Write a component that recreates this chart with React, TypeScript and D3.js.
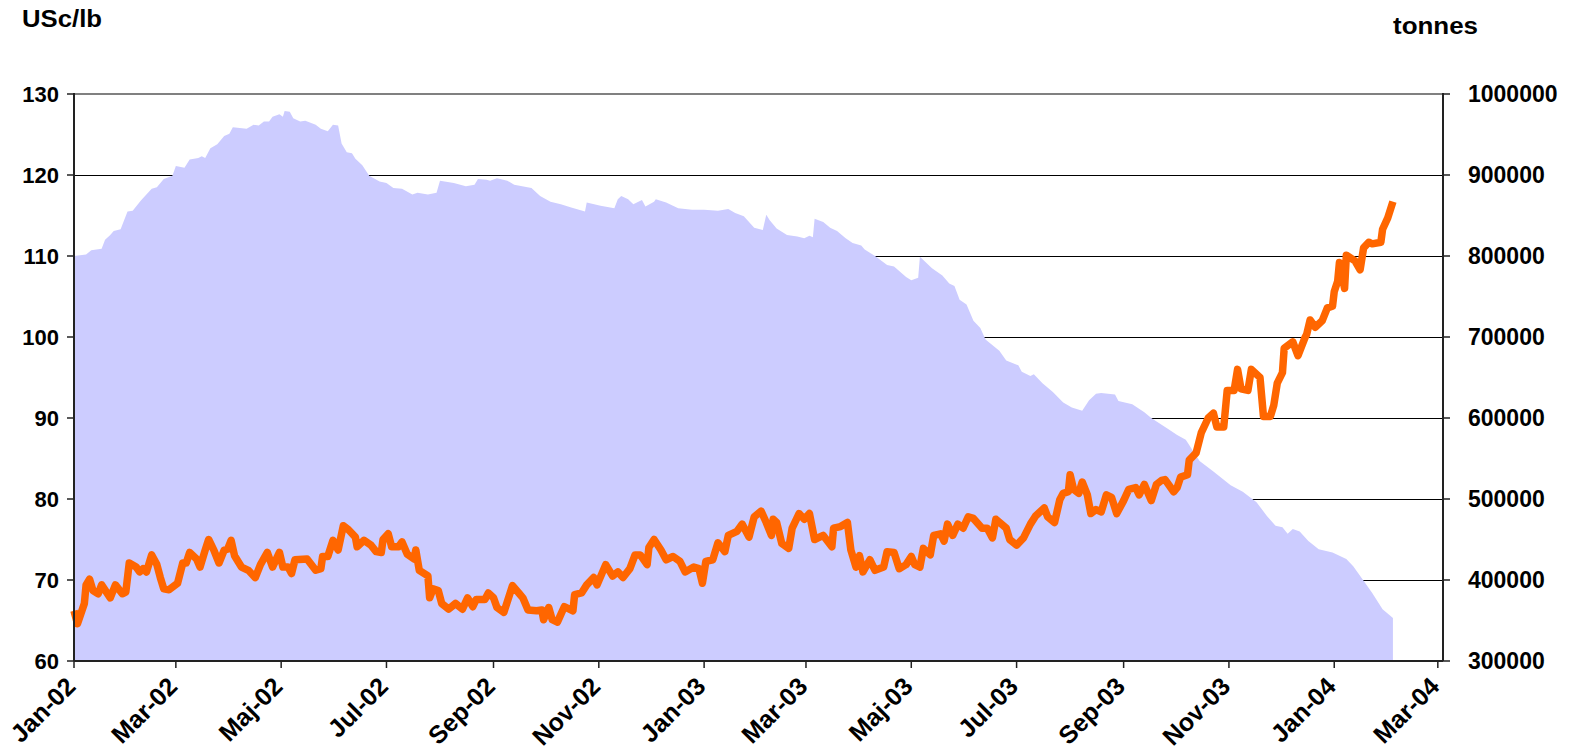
import React, { useRef, useEffect } from 'react';
import * as d3 from 'd3';

// LME copper stocks (tonnes, right axis)
const stockDates = [
  '2002-01-01', '2002-01-08', '2002-01-11', '2002-01-17', '2002-01-19', '2002-01-22', '2002-01-24', '2002-01-28',
  '2002-02-01', '2002-02-04', '2002-02-09', '2002-02-15', '2002-02-18', '2002-02-22', '2002-02-27',
  '2002-03-01', '2002-03-06', '2002-03-09', '2002-03-14', '2002-03-16', '2002-03-18', '2002-03-21', '2002-03-25', '2002-03-29',
  '2002-04-01', '2002-04-03', '2002-04-11', '2002-04-15', '2002-04-18', '2002-04-21', '2002-04-24', '2002-04-26', '2002-04-30',
  '2002-05-02', '2002-05-03', '2002-05-06', '2002-05-08', '2002-05-12', '2002-05-15', '2002-05-21', '2002-05-24', '2002-05-28', '2002-05-31',
  '2002-06-03', '2002-06-05', '2002-06-08', '2002-06-11', '2002-06-13', '2002-06-17', '2002-06-21', '2002-06-27',
  '2002-07-01', '2002-07-05', '2002-07-10', '2002-07-16', '2002-07-19', '2002-07-25', '2002-07-30',
  '2002-08-01', '2002-08-09', '2002-08-16', '2002-08-21', '2002-08-23', '2002-08-28', '2002-08-30',
  '2002-09-03', '2002-09-09', '2002-09-13', '2002-09-23', '2002-09-28',
  '2002-10-04', '2002-10-10', '2002-10-16', '2002-10-24', '2002-10-25',
  '2002-11-02', '2002-11-10', '2002-11-12', '2002-11-14', '2002-11-18', '2002-11-21', '2002-11-26', '2002-11-28',
  '2002-12-03', '2002-12-04', '2002-12-10', '2002-12-17', '2002-12-25',
  '2003-01-01', '2003-01-09', '2003-01-15', '2003-01-19', '2003-01-24', '2003-01-30',
  '2003-02-04', '2003-02-06', '2003-02-08', '2003-02-12', '2003-02-18', '2003-02-24', '2003-02-28',
  '2003-03-03', '2003-03-05', '2003-03-06', '2003-03-11', '2003-03-15', '2003-03-19', '2003-03-24', '2003-03-28',
  '2003-04-02', '2003-04-04', '2003-04-10', '2003-04-17', '2003-04-21', '2003-04-28',
  '2003-05-01', '2003-05-05', '2003-05-06', '2003-05-13', '2003-05-19', '2003-05-23', '2003-05-26', '2003-05-29',
  '2003-06-02', '2003-06-06', '2003-06-10', '2003-06-13', '2003-06-21', '2003-06-25',
  '2003-07-02', '2003-07-04', '2003-07-09', '2003-07-11', '2003-07-16', '2003-07-22', '2003-07-28',
  '2003-08-02', '2003-08-08', '2003-08-12', '2003-08-16', '2003-08-19', '2003-08-27', '2003-08-29',
  '2003-09-06', '2003-09-13', '2003-09-17', '2003-09-27',
  '2003-10-02', '2003-10-07', '2003-10-15', '2003-10-23',
  '2003-11-02', '2003-11-09', '2003-11-17', '2003-11-23', '2003-11-28',
  '2003-12-02', '2003-12-05', '2003-12-08', '2003-12-12', '2003-12-17', '2003-12-23', '2003-12-31',
  '2004-01-08', '2004-01-12', '2004-01-18', '2004-01-23', '2004-01-29', '2004-02-04',
];
const stockTonnes = [
  800000, 802000, 807000, 809000, 820000, 826000, 831000, 833000,
  855000, 856000, 869000, 883000, 885000, 895000, 899000,
  911000, 909000, 919000, 921000, 923000, 921000, 933000, 938000, 948000,
  951000, 959000, 957000, 962000, 961000, 966000, 966000, 972000, 975000,
  972000, 979000, 978000, 970000, 966000, 967000, 962000, 957000, 954000, 962000,
  961000, 939000, 928000, 927000, 920000, 912000, 899000, 892000,
  890000, 884000, 883000, 876000, 878000, 876000, 878000,
  893000, 890000, 886000, 888000, 895000, 894000, 893000,
  896000, 893000, 888000, 884000, 874000,
  867000, 864000, 860000, 855000, 866000,
  862000, 859000, 870000, 874000, 870000, 864000, 869000, 861000,
  867000, 870000, 866000, 859000, 857000,
  857000, 856000, 858000, 853000, 849000, 835000,
  832000, 851000, 844000, 834000, 826000, 824000, 822000,
  825000, 823000, 846000, 842000, 835000, 831000, 822000, 816000,
  813000, 808000, 800000, 789000, 787000, 774000,
  770000, 773000, 799000, 785000, 776000, 766000, 763000, 746000,
  740000, 720000, 711000, 697000, 683000, 671000,
  665000, 657000, 652000, 654000, 643000, 632000, 619000,
  613000, 609000, 622000, 630000, 631000, 629000, 621000,
  617000, 607000, 600000, 586000,
  579000, 573000, 547000, 534000,
  517000, 509000, 496000, 479000, 467000,
  465000, 457000, 463000, 460000, 448000, 438000, 434000,
  426000, 417000, 399000, 384000, 364000, 353000,
];

// LME copper cash price (USc/lb, left axis)
const priceDates = [
  '2002-01-01', '2002-01-03', '2002-01-07', '2002-01-08', '2002-01-10', '2002-01-12', '2002-01-15', '2002-01-17',
  '2002-01-22', '2002-01-25', '2002-01-29', '2002-01-31',
  '2002-02-02', '2002-02-06', '2002-02-08', '2002-02-10', '2002-02-12', '2002-02-15', '2002-02-18', '2002-02-20',
  '2002-02-22', '2002-02-25',
  '2002-03-02', '2002-03-05', '2002-03-07', '2002-03-09', '2002-03-13', '2002-03-15', '2002-03-18', '2002-03-20',
  '2002-03-23', '2002-03-26', '2002-03-29', '2002-03-31',
  '2002-04-02', '2002-04-04', '2002-04-08', '2002-04-12', '2002-04-16', '2002-04-19', '2002-04-23', '2002-04-26', '2002-04-30',
  '2002-05-02', '2002-05-05', '2002-05-07', '2002-05-09', '2002-05-16', '2002-05-21', '2002-05-24', '2002-05-25',
  '2002-05-28', '2002-05-31',
  '2002-06-03', '2002-06-06', '2002-06-09', '2002-06-13', '2002-06-14', '2002-06-18', '2002-06-22', '2002-06-25',
  '2002-06-28', '2002-06-29',
  '2002-07-02', '2002-07-04', '2002-07-08', '2002-07-10', '2002-07-13', '2002-07-17', '2002-07-18', '2002-07-20',
  '2002-07-25', '2002-07-26', '2002-07-28', '2002-07-31',
  '2002-08-02', '2002-08-06', '2002-08-10', '2002-08-14', '2002-08-17', '2002-08-20', '2002-08-22', '2002-08-27', '2002-08-29',
  '2002-09-01', '2002-09-03', '2002-09-07', '2002-09-12', '2002-09-16', '2002-09-18', '2002-09-21', '2002-09-26',
  '2002-09-29', '2002-09-30',
  '2002-10-03', '2002-10-05', '2002-10-08', '2002-10-12', '2002-10-17', '2002-10-18', '2002-10-22', '2002-10-25',
  '2002-10-29', '2002-10-31',
  '2002-11-05', '2002-11-09', '2002-11-12', '2002-11-15', '2002-11-19', '2002-11-22', '2002-11-25', '2002-11-29', '2002-11-30',
  '2002-12-03', '2002-12-07', '2002-12-10', '2002-12-14', '2002-12-18', '2002-12-21', '2002-12-26', '2002-12-29', '2002-12-31',
  '2003-01-02', '2003-01-06', '2003-01-09', '2003-01-13', '2003-01-15', '2003-01-20', '2003-01-23', '2003-01-27', '2003-01-30',
  '2003-02-03', '2003-02-06', '2003-02-09', '2003-02-10', '2003-02-12', '2003-02-15', '2003-02-19', '2003-02-21',
  '2003-02-25', '2003-02-28',
  '2003-03-03', '2003-03-06', '2003-03-11', '2003-03-16', '2003-03-17', '2003-03-21', '2003-03-25', '2003-03-27', '2003-03-30',
  '2003-04-01', '2003-04-03', '2003-04-07', '2003-04-10', '2003-04-15', '2003-04-17', '2003-04-21', '2003-04-24', '2003-04-28',
  '2003-05-01', '2003-05-03', '2003-05-06', '2003-05-08', '2003-05-12', '2003-05-14', '2003-05-18', '2003-05-20',
  '2003-05-22', '2003-05-25', '2003-05-28', '2003-05-31',
  '2003-06-03', '2003-06-06', '2003-06-11', '2003-06-14', '2003-06-17', '2003-06-19', '2003-06-25', '2003-06-27',
  '2003-07-01', '2003-07-05', '2003-07-09', '2003-07-12', '2003-07-17', '2003-07-19', '2003-07-23', '2003-07-26',
  '2003-07-28', '2003-07-31',
  '2003-08-01', '2003-08-03', '2003-08-06', '2003-08-08', '2003-08-11', '2003-08-13', '2003-08-16', '2003-08-19',
  '2003-08-22', '2003-08-25', '2003-08-28',
  '2003-09-01', '2003-09-04', '2003-09-08', '2003-09-10', '2003-09-13', '2003-09-17', '2003-09-20', '2003-09-23',
  '2003-09-25', '2003-09-30',
  '2003-10-02', '2003-10-04', '2003-10-08', '2003-10-09', '2003-10-13', '2003-10-16', '2003-10-20', '2003-10-23',
  '2003-10-25', '2003-10-29', '2003-10-31',
  '2003-11-04', '2003-11-06', '2003-11-08', '2003-11-12', '2003-11-14', '2003-11-19', '2003-11-21', '2003-11-25',
  '2003-11-27', '2003-11-29',
  '2003-12-02', '2003-12-03', '2003-12-08', '2003-12-11', '2003-12-15', '2003-12-16', '2003-12-18', '2003-12-21',
  '2003-12-25', '2003-12-28', '2003-12-31',
  '2004-01-01', '2004-01-03', '2004-01-04', '2004-01-07', '2004-01-08', '2004-01-13', '2004-01-16', '2004-01-18',
  '2004-01-21', '2004-01-23', '2004-01-28', '2004-01-29', '2004-02-01', '2004-02-04',
];
const priceUsc = [
  66.2, 64.6, 67.1, 69.4, 70.1, 68.7, 68.3, 69.4,
  67.8, 69.4, 68.3, 68.5,
  72.1, 71.6, 71.0, 71.4, 71.0, 73.1, 71.9, 70.3,
  68.9, 68.8,
  69.6, 72.1, 72.1, 73.4, 72.6, 71.6, 73.7, 75.0,
  73.7, 72.1, 73.7, 73.8,
  74.9, 73.0, 71.6, 71.2, 70.3, 71.9, 73.4, 71.6, 73.4,
  71.6, 71.6, 70.8, 72.5, 72.6, 71.2, 71.4, 72.9,
  72.9, 74.9,
  73.7, 76.7, 76.2, 75.3, 74.1, 74.9, 74.3, 73.5,
  73.4, 75.0,
  75.7, 74.1, 74.1, 74.7, 73.2, 72.6, 73.7, 71.2,
  70.5, 67.8, 68.9, 68.7,
  67.1, 66.4, 67.1, 66.4, 67.8, 66.7, 67.6, 67.6, 68.4,
  67.8, 66.6, 66.0, 69.3, 68.3, 67.8, 66.3, 66.2,
  66.3, 65.1,
  66.6, 65.1, 64.8, 66.7, 66.2, 68.2, 68.4, 69.4,
  70.3, 69.4,
  71.9, 70.5, 71.0, 70.3, 71.4, 73.1, 73.1, 71.9, 74.0,
  75.0, 73.7, 72.5, 72.9, 72.3, 71.0, 71.6, 71.4, 69.6,
  72.3, 72.5, 74.6, 73.5, 75.5, 76.0, 76.9, 75.3, 77.8,
  78.5, 77.1, 75.5, 77.5, 77.1, 74.5, 73.9, 76.4,
  78.2, 77.5,
  78.2, 75.0, 75.5, 74.1, 76.4, 76.6, 77.1, 73.7, 71.6,
  73.0, 71.0, 72.5, 71.2, 71.6, 73.5, 73.4, 71.4, 71.9,
  72.9, 71.9, 71.6, 73.9, 73.1, 75.5, 75.7, 74.8,
  76.9, 75.5, 76.9, 76.4,
  77.8, 77.6, 76.4, 76.4, 75.2, 77.5, 76.4, 75.0,
  74.3, 75.2, 76.9, 77.9, 78.9, 77.8, 77.1, 79.9,
  80.7, 80.9,
  83.0, 81.2, 80.7, 82.1, 80.5, 78.2, 78.7, 78.4,
  80.5, 80.2, 78.2,
  79.8, 81.2, 81.4, 80.5, 81.8, 79.8, 81.8, 82.3,
  82.4, 80.9,
  81.4, 82.7, 83.0, 84.8, 85.7, 88.2, 90.0, 90.6,
  88.9, 88.9, 93.4,
  93.4, 96.0, 93.6, 93.4, 96.0, 95.0, 90.2, 90.2,
  91.6, 94.3,
  95.6, 98.6, 99.4, 97.7, 99.9, 100.3, 102.1, 101.2,
  102.0, 103.6, 103.8,
  105.6, 106.9, 109.2, 106.0, 110.1, 109.4, 108.3, 111.0,
  111.7, 111.5, 111.7, 113.3, 114.7, 116.7,
];

const leftTicks = [60, 70, 80, 90, 100, 110, 120, 130];
const rightTicks = [300000, 400000, 500000, 600000, 700000, 800000, 900000, 1000000];
const xTickDates = [
  '2002-01-01', '2002-03-01', '2002-05-01', '2002-07-01', '2002-09-01', '2002-11-01', '2003-01-01',
  '2003-03-01', '2003-05-01', '2003-07-01', '2003-09-01', '2003-11-01', '2004-01-01', '2004-03-01',
];
const xTickLabels = [
  'Jan-02', 'Mar-02', 'Maj-02', 'Jul-02', 'Sep-02', 'Nov-02', 'Jan-03',
  'Mar-03', 'Maj-03', 'Jul-03', 'Sep-03', 'Nov-03', 'Jan-04', 'Mar-04',
];

const parse = d3.utcParse('%Y-%m-%d');
const FONT = '"Liberation Sans", Arial, sans-serif';

const CopperChart = () => {
  const svgRef = useRef(null);

  useEffect(() => {
    const width = 1577;
    const height = 753;
    const left = 74;
    const right = 1443;
    const top = 94;
    const bottom = 661;

    const svg = d3.select(svgRef.current).attr('width', width).attr('height', height);
    svg.selectAll('*').remove();

    const x = d3
      .scaleUtc()
      .domain([parse('2002-01-01'), parse('2004-03-04')])
      .range([left, right]);
    const yLeft = d3.scaleLinear().domain([60, 130]).range([bottom, top]);
    const yRight = d3.scaleLinear().domain([300000, 1000000]).range([bottom, top]);

    const stocks = stockDates.map((d, i) => ({ date: parse(d), value: stockTonnes[i] }));
    const prices = priceDates.map((d, i) => ({ date: parse(d), value: priceUsc[i] }));

    // gridlines behind the area
    svg
      .append('g')
      .selectAll('line')
      .data(leftTicks.filter((t) => t > 60 && t < 130))
      .enter()
      .append('line')
      .attr('x1', left)
      .attr('x2', right)
      .attr('y1', (d) => Math.round(yLeft(d)) + 0.5)
      .attr('y2', (d) => Math.round(yLeft(d)) + 0.5)
      .attr('stroke', '#000')
      .attr('stroke-width', 1);

    // stocks area
    const area = d3
      .area()
      .x((d) => x(d.date))
      .y0(yRight(300000))
      .y1((d) => yRight(d.value));
    svg.append('path').datum(stocks).attr('d', area).attr('fill', '#CCCCFF');

    // top border
    svg
      .append('line')
      .attr('x1', left)
      .attr('x2', right)
      .attr('y1', top)
      .attr('y2', top)
      .attr('stroke', '#808080')
      .attr('stroke-width', 2);

    // price line
    const line = d3
      .line()
      .x((d) => x(d.date))
      .y((d) => yLeft(d.value));
    svg
      .append('path')
      .datum(prices)
      .attr('d', line)
      .attr('fill', 'none')
      .attr('stroke', '#FF6600')
      .attr('stroke-width', 7.5)
      .attr('stroke-linejoin', 'round');

    const axisColor = '#222';

    // left axis
    svg.append('line').attr('x1', left).attr('x2', left).attr('y1', top - 1).attr('y2', bottom)
      .attr('stroke', axisColor).attr('stroke-width', 2);
    const leftG = svg.append('g');
    leftG.selectAll('line').data(leftTicks).enter().append('line')
      .attr('x1', left - 7).attr('x2', left)
      .attr('y1', (d) => yLeft(d)).attr('y2', (d) => yLeft(d))
      .attr('stroke', axisColor).attr('stroke-width', 1.5);
    leftG.selectAll('text').data(leftTicks).enter().append('text')
      .attr('x', left - 15).attr('y', (d) => yLeft(d)).attr('dy', '0.36em')
      .attr('text-anchor', 'end')
      .attr('font-family', FONT).attr('font-weight', 'bold').attr('font-size', 22)
      .text((d) => d);

    // right axis
    svg.append('line').attr('x1', right).attr('x2', right).attr('y1', top - 1).attr('y2', bottom)
      .attr('stroke', axisColor).attr('stroke-width', 2);
    const rightG = svg.append('g');
    rightG.selectAll('line').data(rightTicks).enter().append('line')
      .attr('x1', right).attr('x2', right + 7)
      .attr('y1', (d) => yRight(d)).attr('y2', (d) => yRight(d))
      .attr('stroke', axisColor).attr('stroke-width', 1.5);
    rightG.selectAll('text').data(rightTicks).enter().append('text')
      .attr('x', right + 25).attr('y', (d) => yRight(d)).attr('dy', '0.36em')
      .attr('font-family', FONT).attr('font-weight', 'bold').attr('font-size', 23)
      .text((d) => d);

    // bottom axis
    svg.append('line').attr('x1', left).attr('x2', right).attr('y1', bottom).attr('y2', bottom)
      .attr('stroke', axisColor).attr('stroke-width', 2);
    const bottomG = svg.append('g');
    const ticks = xTickDates.map((d, i) => ({ date: parse(d), label: xTickLabels[i] }));
    bottomG.selectAll('line').data(ticks).enter().append('line')
      .attr('x1', (d) => x(d.date)).attr('x2', (d) => x(d.date))
      .attr('y1', bottom).attr('y2', bottom + 7)
      .attr('stroke', axisColor).attr('stroke-width', 1.5);
    bottomG.selectAll('text').data(ticks).enter().append('text')
      .attr('transform', (d) => `translate(${x(d.date) + 3},${bottom + 27}) rotate(-45)`)
      .attr('text-anchor', 'end')
      .attr('font-family', FONT).attr('font-weight', 'bold').attr('font-size', 25)
      .text((d) => d.label);

    // axis titles
    svg.append('text').attr('x', 22).attr('y', 27)
      .attr('font-family', FONT).attr('font-weight', 'bold').attr('font-size', 23)
      .attr('textLength', 80).attr('lengthAdjust', 'spacingAndGlyphs')
      .text('USc/lb');
    svg.append('text').attr('x', 1393).attr('y', 34)
      .attr('font-family', FONT).attr('font-weight', 'bold').attr('font-size', 23)
      .attr('textLength', 85).attr('lengthAdjust', 'spacingAndGlyphs')
      .text('tonnes');
  }, []);

  return (
    <div style={{ position: 'absolute', left: 0, top: 0 }}>
      <svg ref={svgRef} style={{ display: 'block' }} />
    </div>
  );
};

export default function App() {
  return <CopperChart />;
}
